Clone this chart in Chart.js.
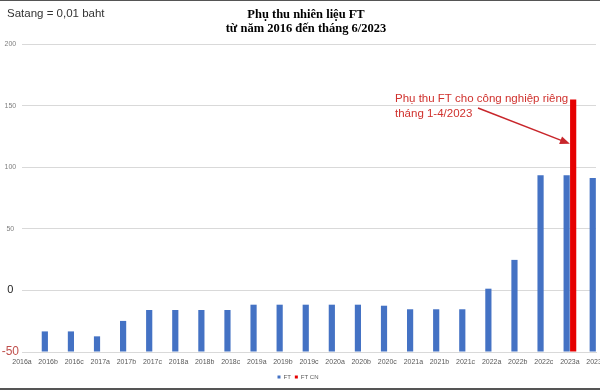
<!DOCTYPE html>
<html>
<head>
<meta charset="utf-8">
<script src="https://cdn.jsdelivr.net/npm/chart.js@4"></script>
<style>
  html, body { margin: 0; padding: 0; background: #fff; }
  #wrap { width: 600px; height: 390px; }
</style>
</head>
<body>
<div id="wrap"><canvas id="ftChart" width="600" height="390"></canvas></div>
<script>
const categories = [
  "2016a", "2016b", "2016c", "2017a", "2017b", "2017c", "2018a", "2018b",
  "2018c", "2019a", "2019b", "2019c", "2020a", "2020b", "2020c", "2021a",
  "2021b", "2021c", "2022a", "2022b", "2022c", "2023a", "2023b",
];
const ftValues = [
  null, -33.29, -33.29, -37.29, -24.77, -15.9, -15.9, -15.9,
  -15.9, -11.6, -11.6, -11.6, -11.6, -11.6, -12.43, -15.32,
  -15.32, -15.32, 1.39, 24.77, 93.43, 93.43, 91.19,
];
const ftCnValues = [
  null, null, null, null, null, null, null, null,
  null, null, null, null, null, null, null, null,
  null, null, null, null, null, 154.92, null,
];
const yTicks = [-50, 0, 50, 100, 150, 200];

const titleLines = ["Phụ thu nhiên liệu FT", "từ năm 2016 đến tháng 6/2023"];
const unitNote = "Satang = 0,01 baht";
const noteLines = ["Phụ thu FT cho công nghiệp riêng", "tháng 1-4/2023"];

function tickVal(ctx) {
  return ctx.tick ? ctx.tick.value : null;
}

// extra drawing: white background, note text, arrow, frame lines
const extras = {
  id: "extras",
  afterLayout(chart) {
    // title sits a little right of the canvas centre in the original
    if (chart.titleBlock) {
      chart.titleBlock.left += 8;
      chart.titleBlock.right += 8;
    }
  },
  beforeDraw(chart) {
    const c = chart.ctx;
    c.save();
    c.fillStyle = "#fff";
    c.fillRect(0, 0, chart.width, chart.height);
    c.restore();
  },
  afterDraw(chart) {
    const c = chart.ctx;
    const x = chart.scales.x;
    const y = chart.scales.y;
    c.save();
    c.font = "11.5px 'Liberation Sans', Arial, sans-serif";
    c.fillStyle = "#333";
    c.textBaseline = "middle";
    c.fillText(unitNote, 7, 14);

    c.fillStyle = "#d0312d";
    c.fillText(noteLines[0], 395, 99);
    c.fillText(noteLines[1], 395, 114);

    // arrow pointing at the FT CN bar
    const tipX = x.getPixelForValue(21);
    const tipY = y.getPixelForValue(119);
    const fromX = 478, fromY = 108;
    const ang = Math.atan2(tipY - fromY, tipX - fromX);
    c.strokeStyle = "#c8262b";
    c.fillStyle = "#c8262b";
    c.lineWidth = 1.5;
    c.beginPath();
    c.moveTo(fromX, fromY);
    c.lineTo(tipX - 8 * Math.cos(ang), tipY - 8 * Math.sin(ang));
    c.stroke();
    c.beginPath();
    c.moveTo(tipX, tipY);
    c.lineTo(tipX - 10 * Math.cos(ang) + 4 * Math.sin(ang), tipY - 10 * Math.sin(ang) - 4 * Math.cos(ang));
    c.lineTo(tipX - 10 * Math.cos(ang) - 4 * Math.sin(ang), tipY - 10 * Math.sin(ang) + 4 * Math.cos(ang));
    c.closePath();
    c.fill();

    c.fillStyle = "#555";
    c.fillRect(0, 0, chart.width, 1);
    c.fillRect(0, chart.height - 2, chart.width, 2);
    c.restore();
  },
};

new Chart(document.getElementById("ftChart"), {
  type: "bar",
  data: {
    labels: categories,
    datasets: [
      {
        label: "FT",
        data: ftValues,
        base: -50,
        backgroundColor: "#4472c4",
        categoryPercentage: 0.5,
        barPercentage: 0.95,
      },
      {
        label: "FT CN",
        data: ftCnValues,
        base: -50,
        backgroundColor: "#e60000",
        categoryPercentage: 0.5,
        barPercentage: 0.95,
      },
    ],
  },
  options: {
    responsive: false,
    animation: false,
    layout: { padding: { left: 0, right: 4, top: 0, bottom: 0 } },
    plugins: {
      tooltip: { enabled: false },
      title: {
        display: true,
        text: titleLines,
        color: "#000",
        font: { family: "'Liberation Serif', 'Times New Roman', serif", size: 12.5, weight: "bold", lineHeight: 1.12 },
        padding: { top: 8, bottom: 8 },
      },
      legend: {
        position: "bottom",
        labels: {
          boxWidth: 3,
          boxHeight: 3,
          padding: 4,
          color: "#595959",
          font: { family: "'Liberation Sans', Arial, sans-serif", size: 6 },
        },
      },
    },
    scales: {
      x: {
        offset: false,
        grid: { display: false, drawTicks: false },
        border: { display: true, color: "#d9d9d9" },
        ticks: {
          autoSkip: false,
          maxRotation: 0,
          padding: 6,
          color: "#595959",
          font: { family: "'Liberation Sans', Arial, sans-serif", size: 7 },
        },
        afterFit(scale) {
          scale.paddingLeft = 0;
          scale.paddingRight = 0;
          scale.height = 18;
        },
      },
      y: {
        min: -50,
        max: 200,
        grid: { color: "#d9d9d9", drawTicks: false },
        border: { display: false },
        afterBuildTicks(scale) {
          scale.ticks = yTicks.map((v) => ({ value: v }));
        },
        afterFit(scale) {
          scale.width = 22;
        },
        ticks: {
          padding: 3,
          crossAlign: "center",
          color: (ctx) => {
            const v = tickVal(ctx);
            return v === -50 ? "#c0504d" : v === 0 ? "#222" : "#7f7f7f";
          },
          font: (ctx) => {
            const v = tickVal(ctx);
            return {
              family: "'Liberation Sans', Arial, sans-serif",
              size: v === -50 ? 12 : v === 0 ? 11 : 7,
            };
          },
        },
      },
    },
  },
  plugins: [extras],
});
</script>
</body>
</html>
